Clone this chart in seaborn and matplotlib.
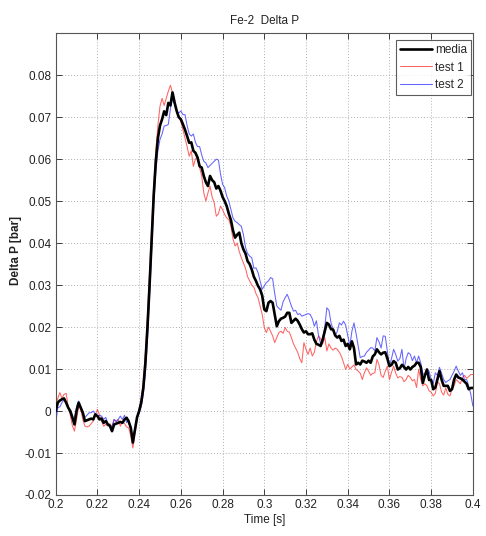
import numpy as np
import pandas as pd
import matplotlib
matplotlib.use("Agg")
import matplotlib.pyplot as plt
import seaborn as sns

# Pressure-difference traces, sampled every 1 ms from 0.200 s to 0.400 s
test_1 = [
    0.001, 0.003, 0.0044, 0.003, 0.004, 0.0042, 0.001, -0.001, -0.0035, -0.0048,
    -0.002, 0.001, 0.0005, -0.002, -0.0036, -0.0038, -0.0036, -0.003, -0.0024, -0.001,
    0.0004, -0.001, -0.0025, -0.0036, -0.0032, -0.0036, -0.003, -0.0045, -0.002, -0.0025,
    -0.002, -0.0036, -0.0025, -0.003, -0.0038, -0.004, -0.006, -0.0088, -0.005, -0.002,
    0.0005, 0.003, 0.007, 0.014, 0.023, 0.033, 0.044, 0.054, 0.062, 0.068,
    0.0726, 0.0745, 0.0728, 0.0745, 0.0762, 0.0776, 0.0758, 0.0734, 0.0715, 0.070,
    0.069, 0.067, 0.065, 0.063, 0.0607, 0.062, 0.0583, 0.060, 0.0607, 0.058,
    0.056, 0.052, 0.050, 0.052, 0.0536, 0.051, 0.0496, 0.0464, 0.047, 0.0488,
    0.048, 0.0468, 0.046, 0.0456, 0.044, 0.041, 0.0393, 0.040, 0.038, 0.0365,
    0.0353, 0.034, 0.032, 0.031, 0.030, 0.0295, 0.028, 0.027, 0.025, 0.023,
    0.0199, 0.0187, 0.020, 0.019, 0.0179, 0.0163, 0.0175, 0.0187, 0.019, 0.0185,
    0.0199, 0.019, 0.0188, 0.0175, 0.016, 0.015, 0.014, 0.0125, 0.0115, 0.0163,
    0.0147, 0.0135, 0.015, 0.0131, 0.014, 0.0165, 0.0179, 0.0172, 0.016, 0.0175,
    0.0143, 0.016, 0.015, 0.0145, 0.015, 0.0147, 0.014, 0.013, 0.0115, 0.0099,
    0.0111, 0.010, 0.0105, 0.011, 0.0099, 0.0095, 0.009, 0.0075, 0.0091, 0.0103,
    0.0095, 0.0085, 0.009, 0.0091, 0.0123, 0.011, 0.0085, 0.008, 0.0095, 0.0107,
    0.0075, 0.0092, 0.0107, 0.009, 0.0079, 0.0082, 0.008, 0.007, 0.0075, 0.0085,
    0.008, 0.0072, 0.0075, 0.0056, 0.0099, 0.0075, 0.006, 0.0065, 0.006, 0.0048,
    0.0045, 0.0036, 0.0042, 0.007, 0.0065, 0.0045, 0.0038, 0.0055, 0.004, 0.0036,
    0.0052, 0.006, 0.0075, 0.007, 0.0065, 0.008, 0.0085, 0.0078, 0.0082, 0.0087,
    0.0087,
]

test_2 = [
    -0.003, 0.0008, 0.001, 0.002, 0.0027, 0.002, 0.0008, -0.0005, -0.002, -0.0015,
    0.001, 0.0024, 0.001, -0.0004, -0.0015, -0.001, -0.0004, -0.0004, 0.0, -0.0008,
    -0.0012, -0.001, -0.0012, -0.002, -0.0015, -0.003, -0.004, -0.0035, -0.002, -0.0025,
    -0.002, -0.0012, -0.002, -0.001, -0.0028, -0.002, -0.0045, -0.006, -0.004, -0.0015,
    -0.0004, 0.001, 0.004, 0.009, 0.017, 0.027, 0.038, 0.049, 0.057, 0.062,
    0.0647, 0.066, 0.0679, 0.068, 0.0683, 0.072, 0.0745, 0.073, 0.0714, 0.071,
    0.0715, 0.0706, 0.0706, 0.068, 0.066, 0.0655, 0.066, 0.064, 0.063, 0.063,
    0.061, 0.0595, 0.0591, 0.058, 0.0585, 0.059, 0.0595, 0.060, 0.0598, 0.0565,
    0.054, 0.0532, 0.0512, 0.050, 0.048, 0.046, 0.0452, 0.0449, 0.0444, 0.044,
    0.042, 0.039, 0.0375, 0.0369, 0.0365, 0.034, 0.0341, 0.033, 0.031, 0.029,
    0.0298, 0.0306, 0.031, 0.0318, 0.0315, 0.028, 0.025, 0.0245, 0.024, 0.026,
    0.027, 0.0278, 0.0265, 0.025, 0.0238, 0.024, 0.023, 0.0232, 0.0226, 0.0228,
    0.023, 0.0232, 0.023, 0.022, 0.0202, 0.0215, 0.018, 0.016, 0.0175, 0.020,
    0.0246, 0.024, 0.021, 0.0195, 0.0179, 0.019, 0.021, 0.0205, 0.0214, 0.0205,
    0.018, 0.0155, 0.019, 0.021, 0.0185, 0.0155, 0.0127, 0.013, 0.0131, 0.014,
    0.0145, 0.0151, 0.015, 0.0143, 0.0175, 0.0165, 0.015, 0.0179, 0.0178, 0.0143,
    0.0107, 0.0125, 0.0147, 0.0135, 0.0119, 0.0125, 0.0147, 0.010, 0.0125, 0.0139,
    0.0135, 0.012, 0.0131, 0.0115, 0.0131, 0.0115, 0.009, 0.0085, 0.010, 0.0095,
    0.0075, 0.0065, 0.0091, 0.0085, 0.0104, 0.009, 0.0075, 0.0068, 0.0072, 0.0075,
    0.0085, 0.0095, 0.0107, 0.0095, 0.0085, 0.0091, 0.0075, 0.0075, 0.006, 0.004,
    0.0012,
]

media = [
    0.000, 0.002, 0.0025, 0.0028, 0.003, 0.002, 0.0008, 0.0, -0.0015, -0.0032,
    0.0, 0.002, 0.0008, -0.0004, -0.0024, -0.0022, -0.002, -0.0018, -0.002, -0.0008,
    -0.0012, -0.002, -0.0018, -0.0028, -0.0024, -0.0032, -0.0035, -0.0048, -0.0032, -0.003,
    -0.0028, -0.0026, -0.0028, -0.002, -0.0016, -0.0025, -0.004, -0.0075, -0.0045, -0.0015,
    0.0, 0.002, 0.0055, 0.0115, 0.020, 0.030, 0.041, 0.0515, 0.0595, 0.065,
    0.068, 0.0695, 0.0714, 0.0705, 0.0734, 0.0728, 0.0759, 0.0735, 0.0715, 0.070,
    0.0695, 0.0683, 0.067, 0.0655, 0.0639, 0.064, 0.062, 0.0615, 0.0604, 0.0583,
    0.058, 0.056, 0.0545, 0.0536, 0.056, 0.055, 0.0545, 0.053, 0.0536, 0.0525,
    0.051, 0.050, 0.0488, 0.047, 0.0455, 0.043, 0.0413, 0.042, 0.0425, 0.040,
    0.0385, 0.0375, 0.0357, 0.035, 0.0337, 0.032, 0.031, 0.0298, 0.029, 0.0275,
    0.0242, 0.0238, 0.0258, 0.0262, 0.0258, 0.023, 0.0202, 0.0214, 0.022, 0.0222,
    0.0225, 0.0234, 0.0234, 0.021, 0.0215, 0.022, 0.0215, 0.0206, 0.0195, 0.0187,
    0.019, 0.0183, 0.0183, 0.0185, 0.017, 0.016, 0.0158, 0.0155, 0.017, 0.019,
    0.021, 0.0206, 0.0195, 0.0194, 0.018, 0.0175, 0.0179, 0.0167, 0.017, 0.0155,
    0.016, 0.0147, 0.0166, 0.015, 0.0111, 0.0115, 0.0111, 0.012, 0.0118, 0.0115,
    0.012, 0.0115, 0.013, 0.0135, 0.0147, 0.014, 0.0135, 0.0139, 0.014, 0.0125,
    0.0107, 0.011, 0.0119, 0.0115, 0.0099, 0.0102, 0.011, 0.0105, 0.0099, 0.0105,
    0.0099, 0.0105, 0.0108, 0.0115, 0.0115, 0.0105, 0.0067, 0.0085, 0.0099, 0.0074,
    0.0074, 0.0052, 0.0056, 0.0075, 0.0095, 0.0075, 0.006, 0.006, 0.006, 0.0048,
    0.0052, 0.0075, 0.0087, 0.008, 0.0078, 0.0075, 0.007, 0.0065, 0.0052, 0.0055,
    0.0055,
]

time_s = np.linspace(0.2, 0.4, len(media))

x_ticks = [0.2, 0.22, 0.24, 0.26, 0.28, 0.3, 0.32, 0.34, 0.36, 0.38, 0.4]
x_tick_labels = ["0.2", "0.22", "0.24", "0.26", "0.28", "0.3", "0.32", "0.34", "0.36", "0.38", "0.4"]
y_ticks = [-0.02, -0.01, 0, 0.01, 0.02, 0.03, 0.04, 0.05, 0.06, 0.07, 0.08]
y_tick_labels = ["-0.02", "-0.01", "0", "0.01", "0.02", "0.03", "0.04", "0.05", "0.06", "0.07", "0.08"]

sns.set_theme(style="white")
plt.rcParams["font.family"] = ["Liberation Sans", "DejaVu Sans"]

fig = plt.figure(figsize=(4.86, 5.36), dpi=100)
ax = fig.add_axes([0.1146, 0.0765, 0.8584, 0.8615])

df = pd.DataFrame({"t": time_s, "media": media, "test 1": test_1, "test 2": test_2})

sns.lineplot(data=df, x="t", y="test 1", ax=ax, color="#ff3030", lw=0.75, alpha=0.75,
             label="test 1", zorder=2)
sns.lineplot(data=df, x="t", y="test 2", ax=ax, color="#3030ff", lw=0.75, alpha=0.75,
             label="test 2", zorder=2)
sns.lineplot(data=df, x="t", y="media", ax=ax, color="black", lw=1.9,
             label="media", zorder=3)

ax.set_xlim(0.2, 0.4)
ax.set_ylim(-0.02, 0.09)
ax.set_xticks(x_ticks)
ax.set_xticklabels(x_tick_labels)
ax.set_yticks(y_ticks)
ax.set_yticklabels(y_tick_labels)

ax.grid(True, linestyle=(0, (1, 2)), color="#b0b0b0", lw=0.7)
ax.tick_params(axis="both", direction="in", length=4, width=0.6, labelsize=8.5,
               colors="#222222", top=True, right=True, bottom=True, left=True, pad=3)
for sp in ax.spines.values():
    sp.set_color("#555555")
    sp.set_linewidth(0.8)

ax.set_xlabel("Time [s]", fontsize=8.5, labelpad=2, color="#222222")
ax.set_ylabel("Delta P [bar]", fontsize=8.5, color="#222222", fontweight="bold")
ax.yaxis.set_label_coords(-0.08, 0.53)
ax.set_title("Fe-2  Delta P", fontsize=8.5, pad=7, color="#222222")

handles, labels = ax.get_legend_handles_labels()
order = [labels.index(n) for n in ["media", "test 1", "test 2"]]
leg = ax.legend([handles[i] for i in order], [labels[i] for i in order],
                loc="upper right", bbox_to_anchor=(0.996, 0.985),
                fontsize=8.5, frameon=True, fancybox=False,
                edgecolor="#333333", borderpad=0.35, handlelength=2.7,
                handletextpad=0.3, labelspacing=0.45, borderaxespad=0.0)
leg.get_frame().set_linewidth(0.8)

fig.savefig("out.png", dpi=100, facecolor="white")
